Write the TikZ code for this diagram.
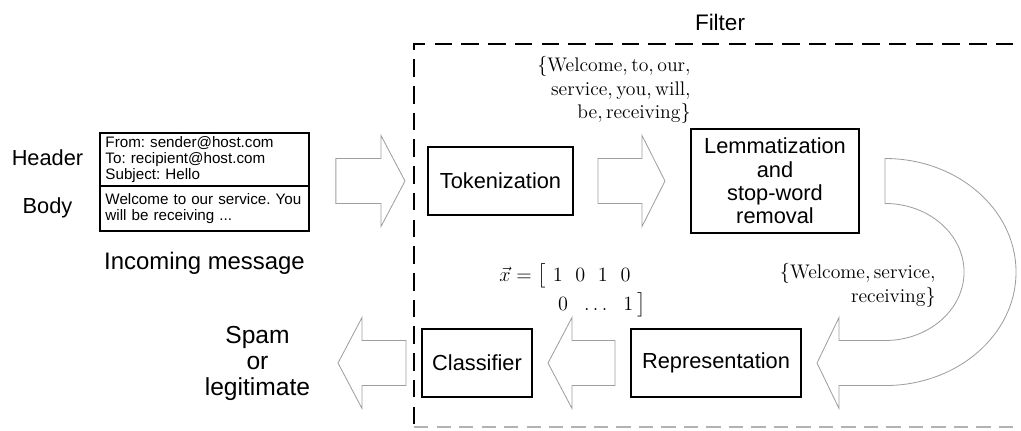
\documentclass[tikz,border=0pt]{standalone}
\usepackage{amsmath}
\usepackage{fontspec}
\setsansfont{Liberation Sans}
\usetikzlibrary{calc}
\newcommand{\barrowpath}[3]{%
  \draw[barrow] ($(#1)+(0,-22.5)$) -- ($(#2)+({-(#3)},-22.5)$) -- ($(#2)+({-(#3)},-45.5)$) -- (#2)
    -- ($(#2)+({-(#3)},45.5)$) -- ($(#2)+({-(#3)},22.5)$) -- ($(#1)+(0,22.5)$) -- cycle;}
\begin{document}
\begin{tikzpicture}[x=0.025cm,y=-0.025cm,
  procbox/.style={draw, line width=1.4pt, align=center, inner sep=0pt,
    font=\sffamily\fontsize{15.5}{16.5}\selectfont},
  msgbox/.style={draw, line width=1.2pt, minimum width=5.225cm, text width=4.95cm,
    align=left, inner sep=0pt, font=\sffamily\frenchspacing\fontsize{10.8}{11.4}\selectfont},
  barrow/.style={draw=gray!75, line width=0.6pt, line join=miter},
  sidelbl/.style={font=\sffamily\fontsize{15.5}{18}\selectfont},
  biglbl/.style={font=\sffamily\fontsize{17.5}{18.5}\selectfont, align=center},
  setlbl/.style={font=\fontsize{14}{17}\selectfont, align=right, inner sep=0pt},
  veclbl/.style={font=\fontsize{14}{17}\selectfont, inner sep=0pt},
  filterline/.style={line width=1.8pt, dash pattern=on 12.5pt off 6.5pt},
  filterbottom/.style={line width=1pt, draw=gray!60, dash pattern=on 10pt off 6pt},
]
\useasboundingbox (0,0) rectangle (1021,430);

% filter region
\begin{scope}
  \clip (0,0) rectangle (1021,430);
  \coordinate (ftr) at (1040,44);
  \coordinate (ftl) at (414,44);
  \coordinate (fbl) at (414,427);
  \coordinate (fbr) at (1040,427);
  \draw[filterline] (ftr) -- (ftl) -- (fbl);
  \draw[filterbottom] (fbl) -- (fbr);
\end{scope}
\node[font=\sffamily\fontsize{16}{18}\selectfont] (filter) at (720,22) {Filter};

% incoming message
\node[msgbox, minimum height=1.325cm] (hdr) at (204.5,159.5)
  {From: sender@host.com\\To: recipient@host.com\\Subject: Hello};
\node[msgbox, minimum height=1.125cm] (body) at (204.5,208.5)
  {Welcome to our service. You\\will be receiving ...};
\node[sidelbl] (hdrlbl) at (47.5,158) {Header};
\node[sidelbl] (bodylbl) at (47.5,208) {Body};
\node[font=\sffamily\fontsize{17}{19}\selectfont] (inlbl) at (204.5,263) {Incoming message};

% processing boxes
\node[procbox, minimum width=3.625cm, minimum height=1.7cm] (tok) at (500.5,181) {Tokenization};
\node[procbox, minimum width=4.2cm, minimum height=2.6cm] (lem) at (775,181)
  {Lemmatization\\and\\stop-word\\removal};
\node[procbox, minimum width=4.25cm, minimum height=1.7cm] (rep) at (716,363) {Representation};
\node[procbox, minimum width=2.75cm, minimum height=1.7cm] (cls) at (477,363) {Classifier};
\node[biglbl] (out) at (257.5,363) {Spam\\or\\legitimate};

% intermediate data
\node[setlbl, anchor=east] (tokset) at (691,90)
  {$\{\text{Welcome}, \text{to}, \text{our},$\\$\text{service}, \text{you}, \text{will},$\\$\text{be}, \text{receiving}\}$};
\node[setlbl, anchor=east] (redset) at (936,285)
  {$\{\text{Welcome}, \text{service},$\\$\text{receiving}\}$};
\node[veclbl] (vecA) at (565,276) {$\vec{x} = \big[\hspace{5pt}1\hspace{9pt}0\hspace{9pt}1\hspace{9pt}0$};
\node[veclbl] (vecB) at (602,305) {$0\hspace{9pt}\ldots\hspace{9pt}1\hspace{3pt}\big]$};

% block arrows
\coordinate (a1s) at ($(hdr.east |- tok.west)+(26,0)$);
\coordinate (a1t) at (405,181);
\barrowpath{a1s}{a1t}{24}
\coordinate (a2s) at ($(tok.east)+(24,0)$);
\coordinate (a2t) at ($(lem.west)+(-25,0)$);
\barrowpath{a2s}{a2t}{23}
\coordinate (a3s) at ($(rep.west)+(-15,0)$);
\coordinate (a3t) at ($(cls.east)+(15,0)$);
\barrowpath{a3s}{a3t}{-24}
\coordinate (a4s) at ($(cls.west)+(-15,0)$);
\coordinate (a4t) at (338,363);
\barrowpath{a4s}{a4t}{-24}

% curved arrow from lemmatization to representation
\coordinate (cs) at ($(lem.east)+(25,0)$);
\coordinate (ct) at ($(rep.east)+(15,0)$);
\draw[barrow] ($(cs)+(0,-22.5)$)
  arc[start angle=90, end angle=-90, x radius=3.275cm, y radius=2.8375cm]
  -- ($(ct)+(22,22.5)$) -- ($(ct)+(22,45.5)$) -- (ct) -- ($(ct)+(22,-45.5)$)
  -- ($(ct)+(22,-22.5)$) -- ($(cs |- ct)+(0,-22.5)$)
  arc[start angle=-90, end angle=90, x radius=1.975cm, y radius=1.7125cm]
  -- cycle;
\end{tikzpicture}
\end{document}
